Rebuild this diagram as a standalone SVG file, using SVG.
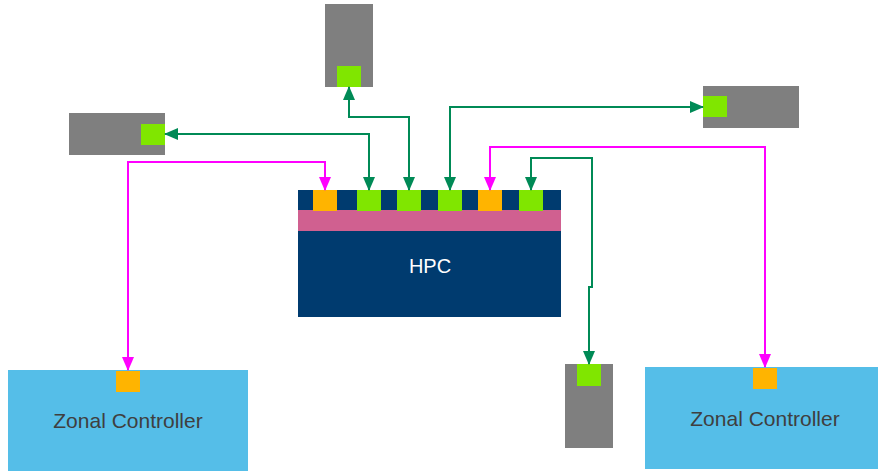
<svg xmlns="http://www.w3.org/2000/svg" width="879" height="471" viewBox="0 0 879 471">
<style>
.gray{fill:#7f7f7f}
.gp{fill:#80e600}
.op{fill:#ffb400}
.navy{fill:#003b6f}
.pink{fill:#d06090}
.zone{fill:#55bee8}
.lbl{font-family:"Liberation Sans",Arial,sans-serif;font-size:21px;fill:#3f3f3f;text-anchor:middle}
.hpc{font-family:"Liberation Sans",Arial,sans-serif;font-size:20px;fill:#ffffff;text-anchor:middle}
.g{fill:none;stroke:#008a56;stroke-width:2}
.m{fill:none;stroke:#ff00ff;stroke-width:2}
</style>
<defs>
<marker id="ag" markerUnits="userSpaceOnUse" markerWidth="14" markerHeight="12" viewBox="0 0 14 12" refX="13" refY="6" orient="auto-start-reverse"><path d="M0,0 L14,6 L0,12 Z" fill="#008a56"/></marker>
<marker id="am" markerUnits="userSpaceOnUse" markerWidth="14" markerHeight="12" viewBox="0 0 14 12" refX="13" refY="6" orient="auto-start-reverse"><path d="M0,0 L14,6 L0,12 Z" fill="#ff00ff"/></marker>
</defs>
<g id="hpc">
<rect class="navy" x="298" y="190" width="263" height="127"/>
<rect class="pink" x="298" y="210" width="263" height="21"/>
<rect class="op" x="313" y="190" width="24" height="21"/>
<rect class="gp" x="357" y="190" width="24" height="21"/>
<rect class="gp" x="397" y="190" width="24" height="21"/>
<rect class="gp" x="438" y="190" width="24" height="21"/>
<rect class="op" x="478" y="190" width="24" height="21"/>
<rect class="gp" x="519" y="190" width="24" height="21"/>
<text class="hpc" x="430" y="273">HPC</text>
</g>
<g id="ecu-left">
<rect class="gray" x="69" y="113" width="96" height="42"/>
<rect class="gp" x="141" y="124" width="24" height="21"/>
</g>
<g id="ecu-top">
<rect class="gray" x="325" y="4" width="48" height="83"/>
<rect class="gp" x="337" y="66" width="24" height="21"/>
</g>
<g id="ecu-right">
<rect class="gray" x="703" y="86" width="96" height="42"/>
<rect class="gp" x="703" y="96" width="24" height="21"/>
</g>
<g id="ecu-bottom">
<rect class="gray" x="565" y="364" width="48" height="84"/>
<rect class="gp" x="577" y="364" width="24" height="22"/>
</g>
<g id="zonal-left">
<rect class="zone" x="8" y="370" width="240" height="101"/>
<rect class="op" x="116" y="371" width="24" height="21"/>
<text class="lbl" x="128" y="428">Zonal Controller</text>
</g>
<g id="zonal-right">
<rect class="zone" x="645" y="367" width="233" height="102"/>
<rect class="op" x="753" y="368" width="24" height="21"/>
<text class="lbl" x="765" y="426">Zonal Controller</text>
</g>
<g id="connectors">
<path class="g" d="M369,190 V134 H165" marker-start="url(#ag)" marker-end="url(#ag)"/>
<path class="g" d="M409,190 V117 H349 V87" marker-start="url(#ag)" marker-end="url(#ag)"/>
<path class="g" d="M450,190 V107 H703" marker-start="url(#ag)" marker-end="url(#ag)"/>
<path class="g" d="M589,364 V287 H592 V158 H531 V190" marker-start="url(#ag)" marker-end="url(#ag)"/>
<path class="m" d="M128,370 V162 H325 V190" marker-start="url(#am)" marker-end="url(#am)"/>
<path class="m" d="M765,367 V147 H490 V190" marker-start="url(#am)" marker-end="url(#am)"/>
</g>
</svg>
